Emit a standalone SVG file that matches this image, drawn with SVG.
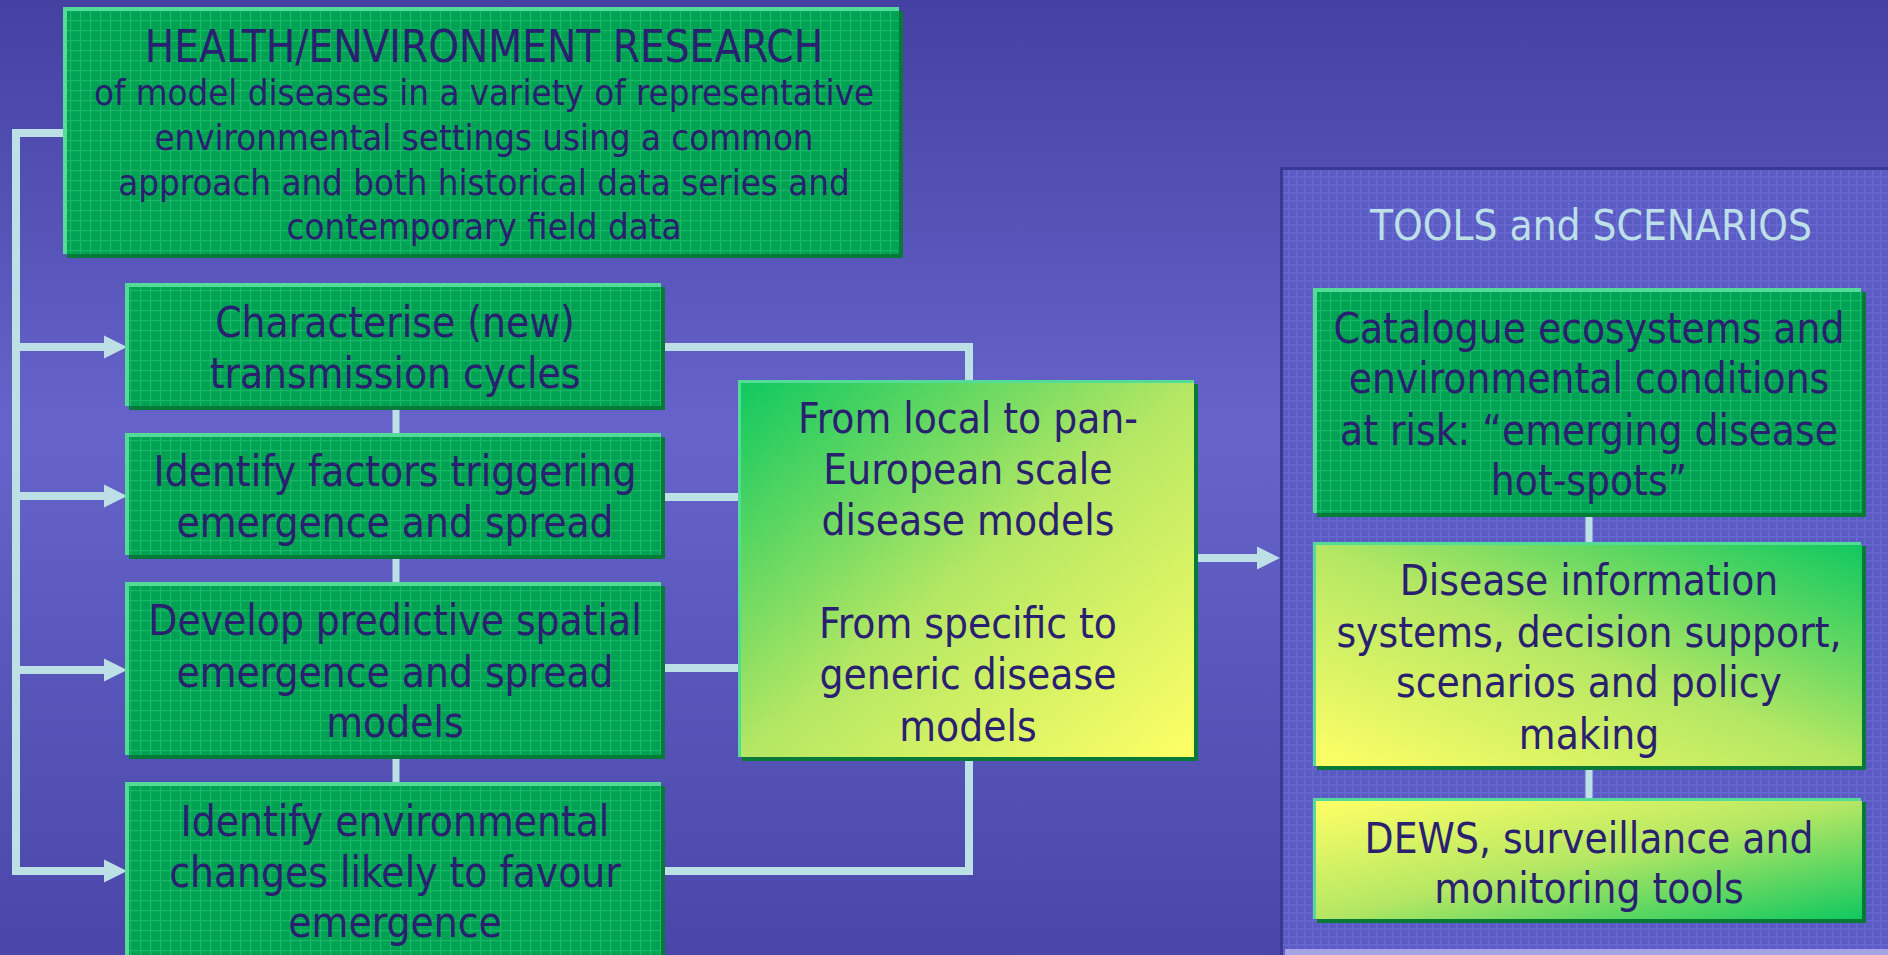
<svg xmlns="http://www.w3.org/2000/svg" width="1888" height="955" viewBox="0 0 1888 955">
<defs>
<style>
.t{font-family:"DejaVu Sans Condensed","DejaVu Sans",sans-serif;font-stretch:condensed;fill:#2a2070;text-anchor:middle;font-size:42px}
.s{font-size:36.3px}
.h{font-size:43.6px}
.ttl{fill:#bde0e8}
.hl{fill:#52dc98}
.sh{fill:#077a38}
.grn{fill:url(#gridG)}
.con{fill:none;stroke:#bde0e6;stroke-width:8}
.thin{fill:none;stroke:#bde0e6;stroke-width:7}
</style>
<linearGradient id="bg" x1="0" y1="0" x2="0" y2="1">
<stop offset="0" stop-color="#4541a3"/>
<stop offset="0.45" stop-color="#6664ca"/>
<stop offset="1" stop-color="#4a46a9"/>
</linearGradient>
<linearGradient id="gTLg" x1="0" y1="0" x2="1" y2="1">
<stop offset="0" stop-color="#10c860"/>
<stop offset="0.5" stop-color="#b4e764"/>
<stop offset="1" stop-color="#ffff66"/>
</linearGradient>
<linearGradient id="gTRg" x1="1" y1="0" x2="0" y2="1">
<stop offset="0" stop-color="#10c860"/>
<stop offset="0.5" stop-color="#b4e764"/>
<stop offset="1" stop-color="#ffff66"/>
</linearGradient>
<linearGradient id="gTLy" x1="0" y1="0" x2="1" y2="1">
<stop offset="0" stop-color="#ffff66"/>
<stop offset="0.5" stop-color="#b4e764"/>
<stop offset="1" stop-color="#10c860"/>
</linearGradient>
<pattern id="gridG" width="10" height="10" patternUnits="userSpaceOnUse">
<rect width="10" height="10" fill="#01a253"/>
<rect width="10" height="1.2" fill="#17b967"/>
<rect width="1.2" height="10" fill="#17b967"/>
</pattern>
<pattern id="gridB" width="8" height="8" patternUnits="userSpaceOnUse">
<rect width="8" height="8" fill="#5b5bc4"/>
<rect width="8" height="1.5" fill="#6767cf"/>
<rect width="1.5" height="8" fill="#6767cf"/>
</pattern>
<marker id="ah" markerUnits="userSpaceOnUse" markerWidth="24" markerHeight="24" refX="0" refY="12" orient="auto" viewBox="0 0 24 24">
<path d="M0,0.5 L23,12 L0,23.5 z" fill="#bde0e6"/>
</marker>
</defs>
<rect width="1888" height="955" fill="url(#bg)"/>

<g id="tools-container">
<rect x="1280" y="167" width="620" height="788" fill="url(#gridB)"/>
<rect x="1280" y="167" width="620" height="3" fill="#3a3896"/>
<rect x="1280" y="167" width="3" height="788" fill="#3a3896"/>
<rect x="1285" y="949" width="610" height="6" fill="#a4a4e4"/>
<text class="t ttl" x="1591" y="240">TOOLS and SCENARIOS</text>
</g>

<g id="connectors">
<path class="con" d="M63,133 H16 V871 H104" marker-end="url(#ah)"/>
<path class="con" d="M16,347 H104" marker-end="url(#ah)"/>
<path class="con" d="M16,496 H104" marker-end="url(#ah)"/>
<path class="con" d="M16,670 H104" marker-end="url(#ah)"/>
<path class="thin" d="M396,408 V435 M396,557 V584 M396,757 V784"/>
<path class="con" d="M663,347 H969 V382"/>
<path class="con" d="M663,497 H740"/>
<path class="con" d="M663,668 H740"/>
<path class="con" d="M663,871 H969 V759"/>
<path class="con" d="M1196,558 H1257" marker-end="url(#ah)"/>
<path class="thin" d="M1589,515 V544 M1589,768 V800"/>
</g>

<g id="health-research">
<rect class="hl" x="63" y="7" width="836" height="247"/>
<rect class="sh" x="67" y="11" width="836" height="247"/>
<rect class="grn" x="67" y="11" width="832" height="243"/>
<text class="t h" x="484" y="62">HEALTH/ENVIRONMENT RESEARCH</text>
<text class="t s" x="484" y="105">of model diseases in a variety of representative</text>
<text class="t s" x="484" y="150">environmental settings using a common</text>
<text class="t s" x="484" y="195">approach and both historical data series and</text>
<text class="t s" x="484" y="239">contemporary field data</text>
</g>

<g id="characterise">
<rect class="hl" x="125" y="283" width="536" height="123"/>
<rect class="sh" x="129" y="287" width="536" height="123"/>
<rect class="grn" x="129" y="287" width="532" height="119"/>
<text class="t" x="395" y="337">Characterise (new)</text>
<text class="t" x="395" y="388">transmission cycles</text>
</g>

<g id="identify-factors">
<rect class="hl" x="125" y="433" width="536" height="122"/>
<rect class="sh" x="129" y="437" width="536" height="122"/>
<rect class="grn" x="129" y="437" width="532" height="118"/>
<text class="t" x="395" y="486">Identify factors triggering</text>
<text class="t" x="395" y="537">emergence and spread</text>
</g>

<g id="develop-models">
<rect class="hl" x="125" y="582" width="536" height="173"/>
<rect class="sh" x="129" y="586" width="536" height="173"/>
<rect class="grn" x="129" y="586" width="532" height="169"/>
<text class="t" x="395" y="635">Develop predictive spatial</text>
<text class="t" x="395" y="687">emergence and spread</text>
<text class="t" x="395" y="737">models</text>
</g>

<g id="identify-changes">
<rect class="hl" x="125" y="782" width="536" height="190"/>
<rect class="sh" x="129" y="786" width="536" height="190"/>
<rect class="grn" x="129" y="786" width="532" height="186"/>
<text class="t" x="395" y="836">Identify environmental</text>
<text class="t" x="395" y="887">changes likely to favour</text>
<text class="t" x="395" y="937">emergence</text>
</g>

<g id="scale-models">
<rect class="hl" x="738" y="380" width="456" height="377"/>
<rect class="sh" x="742" y="384" width="456" height="377"/>
<rect x="741" y="383" width="453" height="374" fill="url(#gTLg)"/>
<text class="t" x="968" y="433">From local to pan-</text>
<text class="t" x="968" y="484">European scale</text>
<text class="t" x="968" y="535">disease models</text>
<text class="t" x="968" y="638">From specific to</text>
<text class="t" x="968" y="689">generic disease</text>
<text class="t" x="968" y="741">models</text>
</g>

<g id="catalogue">
<rect class="hl" x="1313" y="288" width="548" height="225"/>
<rect class="sh" x="1317" y="292" width="549" height="225"/>
<rect class="grn" x="1317" y="292" width="545" height="221"/>
<text class="t" x="1589" y="343">Catalogue ecosystems and</text>
<text class="t" x="1589" y="393">environmental conditions</text>
<text class="t" x="1589" y="445">at risk: “emerging disease</text>
<text class="t" x="1589" y="495">hot-spots”</text>
</g>

<g id="disease-info">
<rect class="hl" x="1313" y="542" width="548" height="224"/>
<rect class="sh" x="1317" y="546" width="549" height="224"/>
<rect x="1316" y="545" width="546" height="221" fill="url(#gTRg)"/>
<text class="t" x="1589" y="595">Disease information</text>
<text class="t" x="1589" y="647">systems, decision support,</text>
<text class="t" x="1589" y="697">scenarios and policy</text>
<text class="t" x="1589" y="749">making</text>
</g>

<g id="dews">
<rect class="hl" x="1313" y="798" width="548" height="121"/>
<rect class="sh" x="1317" y="802" width="549" height="121"/>
<rect x="1316" y="801" width="546" height="118" fill="url(#gTLy)"/>
<text class="t" x="1589" y="853">DEWS, surveillance and</text>
<text class="t" x="1589" y="903">monitoring tools</text>
</g>
</svg>
